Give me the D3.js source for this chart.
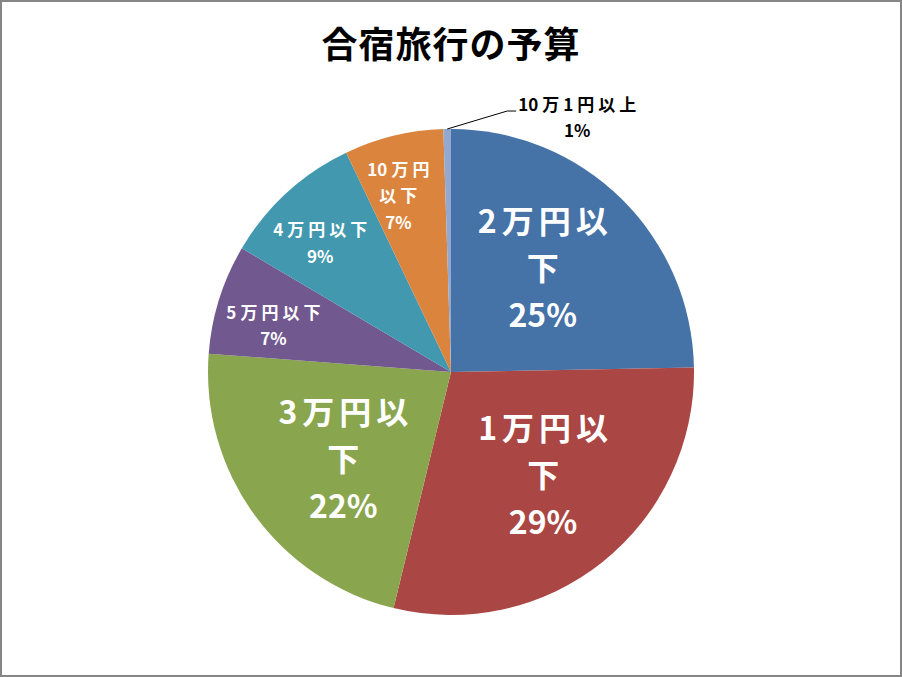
<!DOCTYPE html>
<html>
<head>
<meta charset="utf-8">
<script src="https://cdn.jsdelivr.net/npm/d3@7"></script>
<style>
  body { margin: 0; background: #fff; }
  text { font-family: "Noto Sans CJK JP", "Noto Sans", sans-serif; font-weight: bold; }
</style>
</head>
<body>
<div id="chart"></div>
<script>
// data (share of answers, %)
const categories = ["2万円以下", "1万円以下", "3万円以下", "5万円以下", "4万円以下", "10万円以下", "10万1円以上"];
const values = [24.7, 29.1, 22.4, 7.3, 9.4, 6.6, 0.5];
const colors = ["#4572A7", "#AA4643", "#89A54E", "#71588F", "#4198AF", "#DB843D", "#93A9CF"];
const title = "合宿旅行の予算";

// where each label name is broken into lines (0 = no break)
const splitAt = [4, 4, 4, 0, 0, 4, 0];

const width = 902, height = 677;
const cx = 451, cy = 372, r = 243;

let svg = d3.select("#chart")
    .append("svg")
    .attr("width", width)
    .attr("height", height);

//frame
svg.append("rect")
    .attr("x", 1)
    .attr("y", 1)
    .attr("width", width - 2)
    .attr("height", height - 2)
    .attr("fill", "#fff")
    .attr("stroke", "#868686")
    .attr("stroke-width", 2);

svg.append("text")
    .attr("x", cx)
    .attr("y", 42)
    .attr("text-anchor", "middle")
    .attr("dominant-baseline", "central")
    .attr("font-size", 36)
    .attr("letter-spacing", 1)
    .text(title);

let pie = d3.pie().sort(null).value(d => d);
let arcs = pie(values);
let arc = d3.arc().innerRadius(0).outerRadius(r);

let g = svg.append("g").attr("transform", `translate(${cx},${cy})`);

g.selectAll("path.slice")
    .data(arcs)
    .join("path")
    .attr("class", "slice")
    .attr("d", arc)
    .attr("fill", (d, i) => colors[i]);

const pct = v => Math.round(v) + "%";
const isDigit = c => /[0-9]/.test(c);

//writes one line, spacing kanji apart but keeping digit runs tight
function addLine(t, s, x, y, ls) {
    let chars = Array.from(s);
    chars.forEach(function(c, k) {
        let next = chars[k + 1];
        let sp = (next && isDigit(c) && isDigit(next)) ? 0 : ls;
        let ts = t.append("tspan").attr("letter-spacing", sp).text(c);
        if (k == 0) ts.attr("x", x + ls / 2).attr("y", y);
    });
}

//labels inside the slices
const bias = -3 * Math.PI / 180;
arcs.forEach(function(d, i) {
    if (d.value < 2) return;
    let big = d.value > 15;
    let mid = (d.startAngle + d.endAngle) / 2 + bias;
    let rr = r * (big ? 0.57 : 0.755);
    let x = Math.sin(mid) * rr, y = -Math.cos(mid) * rr - 2;
    let name = categories[i];
    let lines = splitAt[i] ? [name.slice(0, splitAt[i]), name.slice(splitAt[i])] : [name];
    let fs = big ? 32 : 17;
    let lh = big ? 47 : 26.5;
    let ls = big ? 5 : 4;
    let all = lines.concat([pct(d.value)]);
    let y0 = y - (all.length - 1) * lh / 2;
    let t = g.append("text")
        .attr("fill", "#fff")
        .attr("font-size", fs)
        .attr("text-anchor", "middle")
        .attr("dominant-baseline", "central");
    all.forEach(function(s, k) {
        if (k < lines.length) addLine(t, s, x, y0 + k * lh, ls);
        else t.append("tspan").attr("x", x).attr("y", y0 + k * lh).text(s);
    });
});

//outside label with leader line for the tiny slice
arcs.forEach(function(d, i) {
    if (d.value >= 2) return;
    let mid = (d.startAngle + d.endAngle) / 2;
    let px = Math.sin(mid) * r, py = -Math.cos(mid) * r;
    g.append("polyline")
        .attr("points", [[px, py], [px + 60, py - 18], [px + 69, py - 18]].map(p => p.join(",")).join(" "))
        .attr("fill", "none")
        .attr("stroke", "#000")
        .attr("stroke-width", 1);
    let lx = px + 130, ly = py - 26;
    let t = g.append("text")
        .attr("fill", "#000")
        .attr("font-size", 17)
        .attr("text-anchor", "middle")
        .attr("dominant-baseline", "central");
    addLine(t, categories[i], lx, ly, 4);
    t.append("tspan").attr("x", lx).attr("y", ly + 26).text(pct(d.value));
});
</script>
</body>
</html>
